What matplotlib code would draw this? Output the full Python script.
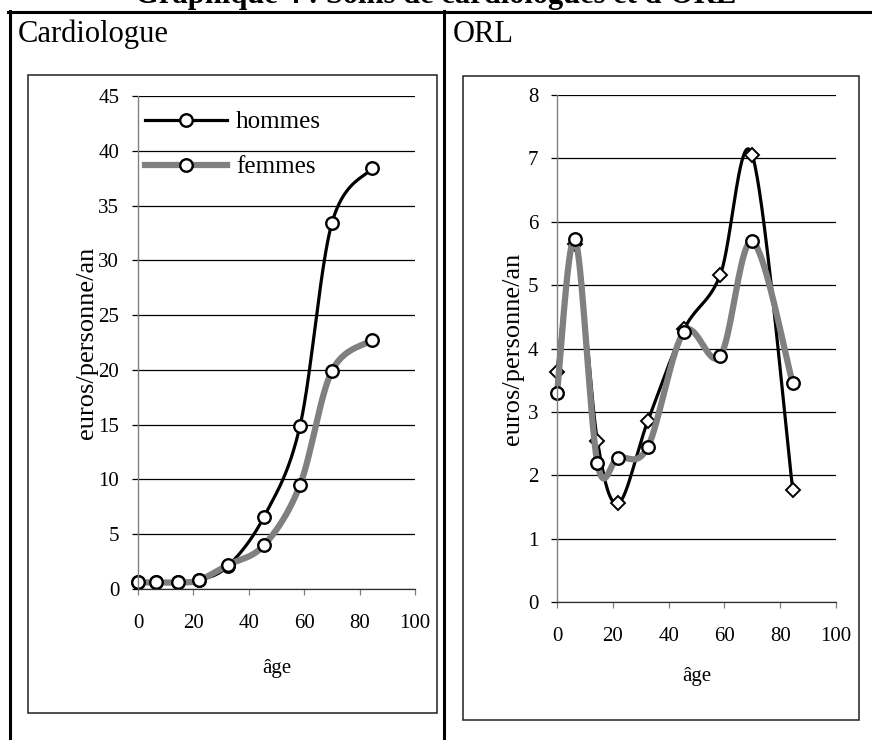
import matplotlib
matplotlib.use("Agg")
import matplotlib.pyplot as plt
from matplotlib.lines import Line2D
from matplotlib.patches import Rectangle
import numpy as np

# values
ages = [0, 6.5, 14.5, 22, 32.5, 45.5, 58.5, 70, 84.5]
cardio_hommes = [0.6, 0.6, 0.6, 0.8, 2.1, 6.6, 14.9, 33.4, 38.4]
cardio_femmes = [0.6, 0.6, 0.6, 0.8, 2.2, 4.0, 9.5, 19.9, 22.7]
orl_hommes = [3.63, 5.65, 2.54, 1.56, 2.85, 4.3, 5.16, 7.05, 1.77]
orl_femmes = [3.29, 5.72, 2.19, 2.28, 2.44, 4.26, 3.88, 5.69, 3.45]
labels = ["hommes", "femmes"]
x_ticks = [0, 20, 40, 60, 80, 100]

W, H = 872, 740
SERIF = "Liberation Serif"
GREY = "#808080"
plt.rcParams["font.family"] = SERIF


def fx(x):
    return x / W


def fy(y):
    return 1 - y / H


def smooth(x, y, n=40):
    """Bezier smoothing like a spreadsheet 'smoothed line'."""
    pts = np.column_stack([x, y]).astype(float)
    out = [pts[0]]
    t = np.linspace(0, 1, n)[1:, None]
    for i in range(len(pts) - 1):
        p0 = pts[i - 1] if i > 0 else pts[i]
        p1, p2 = pts[i], pts[i + 1]
        p3 = pts[i + 2] if i + 2 < len(pts) else pts[i + 1]
        c1 = p1 + (p2 - p0) / 6
        c2 = p2 - (p3 - p1) / 6
        seg = (1 - t) ** 3 * p1 + 3 * (1 - t) ** 2 * t * c1 + 3 * (1 - t) * t ** 2 * c2 + t ** 3 * p2
        out.extend(seg)
    return np.array(out)


def style_axes(ax, ymax, ystep, label_x, xlab_y):
    ax.set_xlim(0, 100)
    ax.set_ylim(0, ymax)
    ax.set_xticks(x_ticks)
    ax.set_yticks(np.arange(0, ymax + ystep / 2, ystep))
    ax.yaxis.grid(True, color="black", lw=0.9)
    ax.set_axisbelow(True)
    for s in ["top", "right"]:
        ax.spines[s].set_visible(False)
    ax.spines["left"].set_color(GREY)
    ax.spines["left"].set_linewidth(1.0)
    ax.spines["bottom"].set_color("#303030")
    ax.spines["bottom"].set_linewidth(0.9)
    ax.tick_params(axis="y", direction="out", length=4.5, width=0.9, color="black",
                   pad=9, labelsize=15)
    ax.tick_params(axis="x", direction="out", length=4, width=0.9, color=GREY,
                   pad=14, labelsize=15)
    ax.set_ylabel("euros/personne/an", fontsize=19)
    ax.yaxis.set_label_coords(label_x, 0.5)
    ax.set_xlabel("âge", fontsize=15)
    ax.xaxis.set_label_coords(0.5, xlab_y)


fig = plt.figure(figsize=(W / 100, H / 100), dpi=100)

# table frame around the two charts
for x0, y0, x1, y1 in [(8, 11.5, W, 11.5), (9.5, 11, 9.5, H), (443.5, 11, 443.5, H)]:
    fig.add_artist(Line2D([fx(x0), fx(x1)], [fy(y0), fy(y1)], color="black", lw=2.2,
                          transform=fig.transFigure))
for x0, y0, x1, y1 in [(28, 75, 437, 713), (463, 76, 859, 720)]:
    fig.add_artist(Rectangle((fx(x0), fy(y1)), (x1 - x0) / W, (y1 - y0) / H, fill=False,
                             edgecolor="#202020", lw=1.1, transform=fig.transFigure))

fig.text(fx(436), fy(3), "Graphique 4 : Soins de cardiologues et d'ORL", fontsize=22,
         fontweight="bold", ha="center", va="baseline")
fig.text(fx(18), fy(42), "Cardiologue", fontsize=22, ha="left", va="baseline")
fig.text(fx(453), fy(42), "ORL", fontsize=22, ha="left", va="baseline")

# --- Cardiologue ---
ax1 = fig.add_axes([138 / W, (H - 589) / H, 277 / W, 493 / H])
style_axes(ax1, 45, 5, -0.145, -0.143)
circ = dict(marker="o", ms=9, mfc="white", mec="black", mew=1.7, ls="none", clip_on=False)
for vals, col, lw in [(cardio_hommes, "black", 2.3), (cardio_femmes, GREY, 4.5)]:
    c = smooth(ages, vals)
    ax1.plot(c[:, 0], c[:, 1], color=col, lw=lw, solid_capstyle="butt", clip_on=False)
    ax1.plot(ages, vals, **circ)

handles = [Line2D([], [], color="black", lw=2.3, marker="o", ms=9, mfc="white", mec="black", mew=1.7),
           Line2D([], [], color=GREY, lw=4.5, marker="o", ms=9, mfc="white", mec="black", mew=1.7)]
ax1.legend(handles, labels, loc="upper left", bbox_to_anchor=(0.025, 0.97), frameon=False,
           fontsize=18, handlelength=3.3, handletextpad=0.35, labelspacing=0.9,
           borderpad=0, borderaxespad=0, numpoints=1)

# --- ORL ---
ax2 = fig.add_axes([557 / W, (H - 602) / H, 279 / W, 507 / H])
style_axes(ax2, 8, 1, -0.12, -0.128)
c = smooth(ages, orl_hommes)
ax2.plot(c[:, 0], c[:, 1], color="black", lw=2.3, clip_on=False)
ax2.plot(ages, orl_hommes, marker="D", ms=7, mfc="white", mec="black", mew=1.4, ls="none",
         clip_on=False)
c = smooth(ages, orl_femmes)
ax2.plot(c[:, 0], c[:, 1], color=GREY, lw=4.5, clip_on=False)
ax2.plot(ages, orl_femmes, **circ)

fig.savefig("out.png", dpi=100)
